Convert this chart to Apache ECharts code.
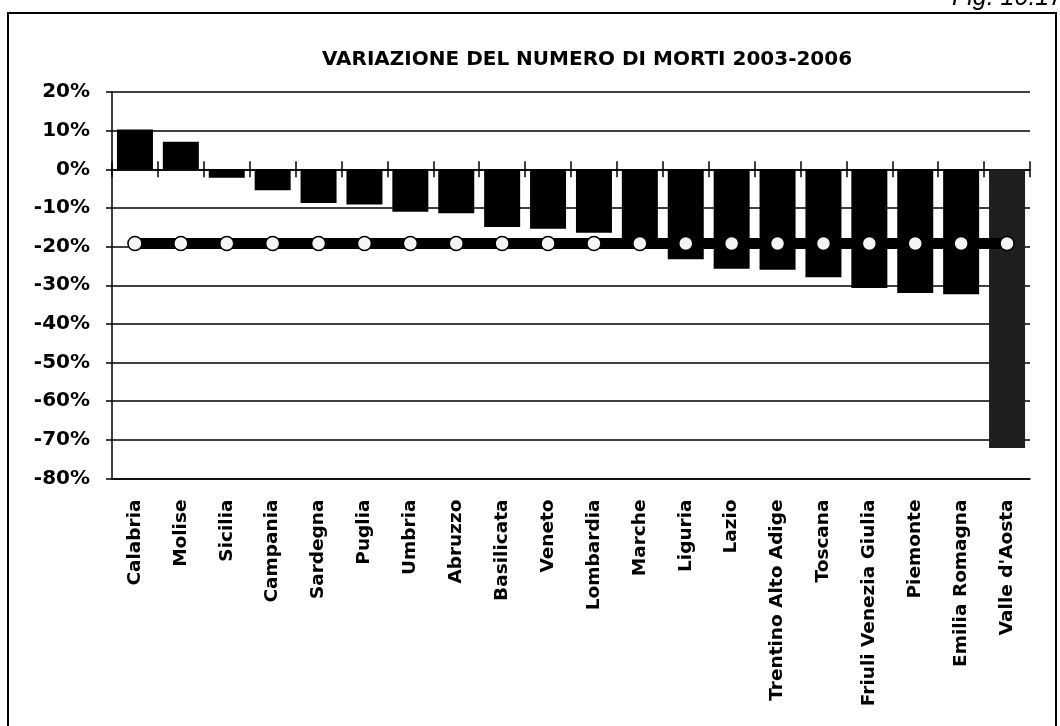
<!DOCTYPE html>
<html>
<head>
<meta charset="utf-8">
<script src="https://cdn.jsdelivr.net/npm/echarts@6/dist/echarts.min.js"></script>
<style>
  html, body { margin: 0; padding: 0; background: #fff; }
  #chart { width: 1060px; height: 726px; }
</style>
</head>
<body>
<div id="chart"></div>
<script>
// regioni, ordinate per variazione
var regioni = ['Calabria', 'Molise', 'Sicilia', 'Campania', 'Sardegna', 'Puglia', 'Umbria', 'Abruzzo',
  'Basilicata', 'Veneto', 'Lombardia', 'Marche', 'Liguria', 'Lazio', 'Trentino Alto Adige', 'Toscana',
  'Friuli Venezia Giulia', 'Piemonte', 'Emilia Romagna', "Valle d'Aosta"];
// variazione % morti 2003-2006
var variazione = [10.3, 7.1, -2.2, -5.4, -8.7, -9.1, -11.0, -11.4, -14.9, -15.4, -16.4, -18.8,
  -23.3, -25.7, -26.0, -27.9, -30.7, -32.0, -32.3, -72.1];
// media Italia
var mediaItalia = [-19.2, -19.2, -19.2, -19.2, -19.2, -19.2, -19.2, -19.2, -19.2, -19.2,
  -19.2, -19.2, -19.2, -19.2, -19.2, -19.2, -19.2, -19.2, -19.2, -19.2];
var yMin = -80, yMax = 20, yStep = 10;

var chart = echarts.init(document.getElementById('chart'));
var font = '"DejaVu Sans", sans-serif';

var option = {
  backgroundColor: '#fff',
  animation: false,
  title: {
    text: 'VARIAZIONE DEL NUMERO DI MORTI 2003-2006',
    left: 582,
    textAlign: 'center',
    top: 45,
    textStyle: { fontFamily: font, fontWeight: 'bold', fontSize: 20, color: '#000' }
  },
  graphic: [
    {
      type: 'rect',
      shape: { x: 8, y: 13, width: 1048, height: 740 },
      style: { fill: 'none', stroke: '#000', lineWidth: 2 }
    },
    {
      type: 'text',
      x: 952, y: -2,
      style: { text: 'Fig. 10.17', font: 'italic 25px "Liberation Sans", Arial', fill: '#000', verticalAlign: 'middle' }
    }
  ],
  grid: { left: 112, right: 30, top: 92, bottom: 247.5, containLabel: false },
  xAxis: [
    {
      type: 'category',
      data: regioni,
      position: 'bottom',
      axisLine: { onZero: false, lineStyle: { color: '#000', width: 1.5 } },
      axisTick: { show: false },
      axisLabel: {
        rotate: 90, margin: 21, interval: 0,
        fontFamily: font, fontWeight: 'bold', fontSize: 18.5, color: '#000'
      }
    },
    {
      type: 'category',
      data: regioni,
      position: 'bottom',
      axisLine: { onZero: true, onZeroAxisIndex: 0, lineStyle: { color: '#000', width: 1.5 } },
      axisTick: { show: true, interval: 0, inside: false, length: 8, lineStyle: { color: '#000', width: 1.5 } },
      axisLabel: { show: false, interval: 0 }
    },
    {
      type: 'category',
      data: regioni,
      position: 'bottom',
      axisLine: { show: false, onZero: true, onZeroAxisIndex: 0 },
      axisTick: { show: true, interval: 0, inside: true, length: 8, lineStyle: { color: '#000', width: 1.5 } },
      axisLabel: { show: false, interval: 0 }
    }
  ],
  yAxis: {
    type: 'value',
    min: yMin, max: yMax, interval: yStep,
    axisLine: { show: true, lineStyle: { color: '#000', width: 1.5 } },
    axisTick: { show: true, length: 6, lineStyle: { color: '#000', width: 1.5 } },
    splitLine: { show: true, lineStyle: { color: '#000', width: 1.5 } },
    axisLabel: {
      formatter: '{value}%', margin: 22,
      fontFamily: font, fontWeight: 'bold', fontSize: 20, color: '#000'
    }
  },
  series: [
    {
      name: 'Variazione',
      type: 'bar',
      xAxisIndex: 0,
      data: variazione,
      barWidth: 36,
      itemStyle: {
        color: function (p) { return p.name === "Valle d'Aosta" ? '#1e1e1e' : '#000'; }
      },
      z: 2
    },
    {
      name: 'Italia',
      type: 'line',
      xAxisIndex: 0,
      data: mediaItalia,
      lineStyle: { color: '#000', width: 11 },
      symbol: 'circle',
      symbolSize: 14,
      itemStyle: { color: '#f4f4f4', borderColor: '#000', borderWidth: 1.5 },
      z: 5
    }
  ]
};
chart.setOption(option);
</script>
</body>
</html>
